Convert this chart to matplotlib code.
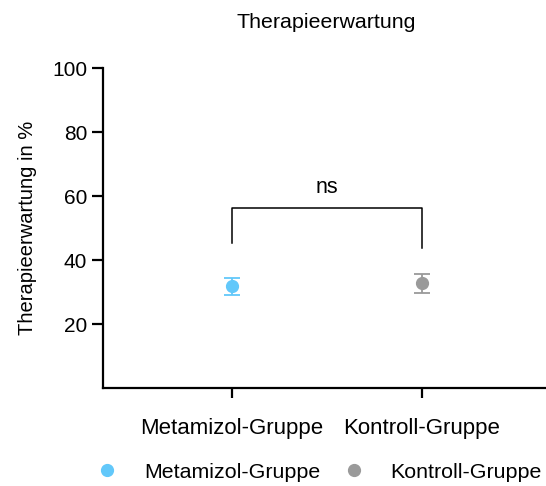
import matplotlib
matplotlib.use("Agg")
import matplotlib.pyplot as plt
from matplotlib.lines import Line2D

plt.rcParams['font.family'] = ['Liberation Sans', 'DejaVu Sans']

# data
groups = ['Metamizol-Gruppe', 'Kontroll-Gruppe']
means = [31.8, 32.7]
err_low = [2.8, 3.0]
err_high = [2.6, 2.8]
colors = ['#62C8FA', '#9A9A9A']
bracket_y = [45.3, 56.3, 56.3, 43.8]
sig_label = 'ns'
yticks = [20, 40, 60, 80, 100]

fig = plt.figure(figsize=(5.46, 4.86), dpi=100)
ax = fig.add_axes([103/546, 98/486, 443/546, 320/486])

handles = []
for i, g in enumerate(groups):
    ax.errorbar([i], [means[i]], yerr=[[err_low[i]], [err_high[i]]], fmt='o',
                color=colors[i], ms=8.5, elinewidth=1.3, capsize=5.5, capthick=1.3)
    handles.append(Line2D([], [], ls='none', marker='o', color=colors[i], ms=8.5))

# significance bracket
ax.plot([0, 0, 1, 1], bracket_y, color='black', lw=1.1)
ax.text(0.5, 59.3, sig_label, ha='center', va='bottom', fontsize=15.5)

ax.set_xlim(-0.677, 1.654)
ax.set_ylim(0, 100)
ax.set_yticks(yticks)
ax.set_xticks([0, 1])
ax.set_xticklabels(groups)
ax.set_ylabel('Therapieerwartung in %', fontsize=14.5, labelpad=11)

for side in ['top', 'right']:
    ax.spines[side].set_visible(False)
for side in ['left', 'bottom']:
    ax.spines[side].set_linewidth(1.6)
ax.tick_params(axis='y', length=8, width=1.6, pad=3.5, labelsize=15)
ax.tick_params(axis='x', length=7.5, width=1.6, pad=14, labelsize=16)

fig.text(326/546, 1 - 23/486, 'Therapieerwartung', ha='center', va='center', fontsize=15.4)

fig.legend(handles, groups, loc='center left', bbox_to_anchor=(101/546, 1 - 472/486),
           ncol=2, frameon=False, fontsize=15.4, handlelength=0.6,
           handletextpad=1.4, columnspacing=1.3, borderpad=0, borderaxespad=0)

fig.savefig('out.png', dpi=100)
